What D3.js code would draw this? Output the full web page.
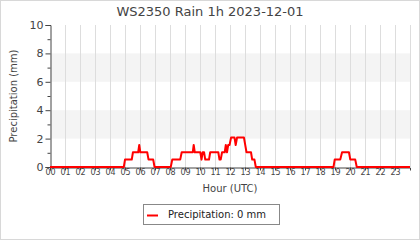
<!DOCTYPE html>
<html><head><meta charset="utf-8">
<script src="https://cdn.jsdelivr.net/npm/d3@7"></script>
<style>html,body{margin:0;padding:0;background:#fff;}svg{display:block;font-family:"DejaVu Sans",sans-serif;}</style>
</head><body>
<script>
const title = "WS2350 Rain 1h 2023-12-01";
const hours = [0,4.92,5.00,5.45,5.53,5.88,5.95,6.02,6.48,6.57,6.88,6.97,8.05,8.15,8.68,8.78,9.52,9.58,9.65,10.02,10.10,10.18,10.27,10.35,10.60,10.68,11.22,11.30,11.38,11.47,11.65,11.72,11.80,11.88,11.97,12.07,12.30,12.38,12.47,12.93,13.10,13.40,13.48,13.63,13.72,18.90,18.98,19.35,19.47,19.93,20.02,20.35,20.45,24.00];
const rain  = [0,0,0.52,0.52,1.04,1.04,1.55,1.04,1.04,0.52,0.52,0,0,0.52,0.52,1.04,1.04,1.55,1.04,1.04,0.52,1.04,1.04,0.52,0.52,1.04,1.04,0.52,0.52,1.04,1.04,1.55,1.04,1.55,1.55,2.07,2.07,1.55,2.07,2.07,1.04,1.04,0.52,0.52,0,0,0.52,0.52,1.04,1.04,0.52,0.52,0,0];
const xTickLabels = ["00","01","02","03","04","05","06","07","08","09","10","11","12","13","14","15","16","17","18","19","20","21","22","23"];
const yTickValues = [0,2,4,6,8,10];
const yMinorValues = [1,3,5,7,9];
const bands = [[2,4],[6,8]];
const legendLabel = "Precipitation: 0 mm";

const W = 420, H = 240;
const m = {l:50, r:10, t:25, b:73};
const svg = d3.select("body").append("svg").attr("width",W).attr("height",H);
svg.append("rect").attr("x",0.5).attr("y",0.5).attr("width",W-1).attr("height",H-1).attr("fill","#fff").attr("stroke","#d8d8d8");

const x = d3.scaleLinear().domain([0,24]).range([m.l, W-m.r]);
const y = d3.scaleLinear().domain([0,10]).range([H-m.b, m.t]);

// bands
svg.selectAll(".band").data(bands).enter().append("rect")
  .attr("x", x(0)).attr("width", x(24)-x(0))
  .attr("y", d=>y(d[1])).attr("height", d=>y(d[0])-y(d[1]))
  .attr("fill","#f4f4f4");

// vertical grid
svg.selectAll(".vg").data(d3.range(1,25)).enter().append("line")
  .attr("x1",d=>x(d)+0.5).attr("x2",d=>x(d)+0.5)
  .attr("y1",y(10)).attr("y2",y(0))
  .attr("stroke","#dddddd").attr("stroke-width",1);

// y axis
const yAxis = d3.axisLeft(y).tickValues(yTickValues).tickSize(5).tickFormat(d3.format("d"));
const gy = svg.append("g").attr("transform",`translate(${m.l+0.5},0)`).call(yAxis);
gy.select(".domain").attr("stroke","#444");
gy.selectAll(".tick line").attr("stroke","#444");
gy.selectAll(".tick text").attr("font-size",11).attr("fill","#444").attr("font-family","DejaVu Sans").attr("x",-7);
const gym = svg.append("g").attr("transform",`translate(${m.l+0.5},0)`).call(d3.axisLeft(y).tickValues(yMinorValues).tickSize(3).tickFormat(""));
gym.select(".domain").remove();
gym.selectAll(".tick line").attr("stroke","#444");

// x axis
const xAxis = d3.axisBottom(x).tickValues(d3.range(0,24)).tickSize(3).tickFormat(d=>xTickLabels[d]);
const gx = svg.append("g").attr("transform",`translate(0,${y(0)+0.5})`).call(xAxis);
gx.select(".domain").attr("stroke","#444");
gx.selectAll(".tick line").attr("stroke","#444");
gx.selectAll(".tick text").attr("font-size",8).attr("fill","#444").attr("font-family","DejaVu Sans").attr("dy","0.6em").attr("y",3);

// line
const data = hours.map((h,i)=>({h, v: rain[i]}));
svg.append("path").datum(data)
  .attr("d", d3.line().x(d=>x(d.h)).y(d=>y(d.v)))
  .attr("fill","none").attr("stroke","#ff0000").attr("stroke-width",2).attr("stroke-linejoin","round");

// title
svg.append("text").attr("x",W/2).attr("y",16).attr("text-anchor","middle")
  .attr("font-size",13).attr("fill","#444").text(title);
// axis labels
svg.append("text").attr("transform",`translate(17,${(y(0)+y(10))/2}) rotate(-90)`).attr("text-anchor","middle")
  .attr("font-size",10).attr("fill","#444").text("Precipitation (mm)");
svg.append("text").attr("x",(x(0)+x(24))/2).attr("y",192).attr("text-anchor","middle")
  .attr("font-size",10).attr("fill","#444").text("Hour (UTC)");

// legend
const lg = svg.append("g");
lg.append("rect").attr("x",143.5).attr("y",204.5).attr("width",136).attr("height",20).attr("fill","#fff").attr("stroke","#888");
lg.append("line").attr("x1",147).attr("x2",158).attr("y1",215.5).attr("y2",215.5).attr("stroke","#ff0000").attr("stroke-width",2);
lg.append("text").attr("x",168).attr("y",218).attr("font-size",10).attr("fill","#222").text(legendLabel);
</script>
</body></html>
